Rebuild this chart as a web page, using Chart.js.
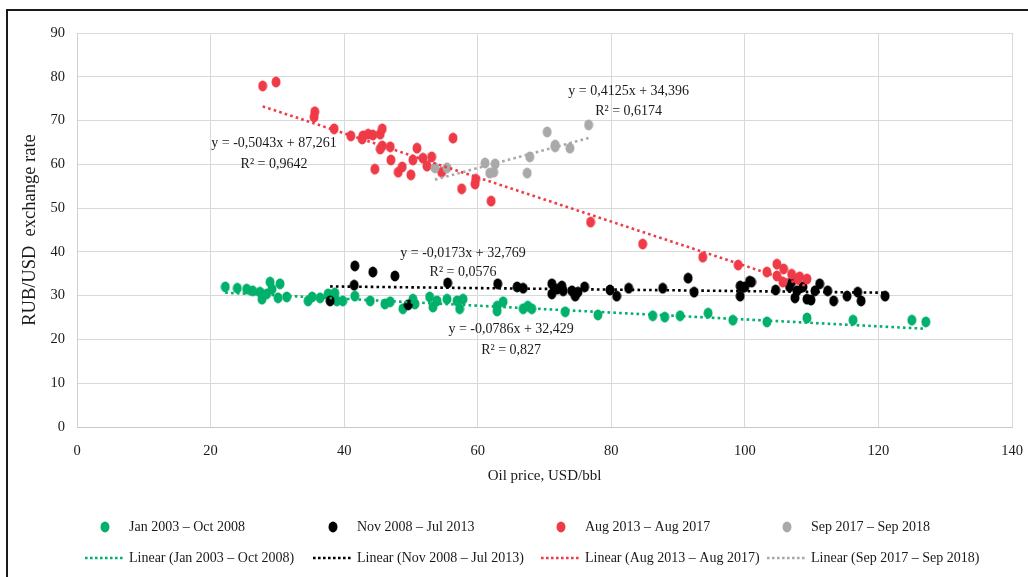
<!DOCTYPE html>
<html>
<head>
<meta charset="utf-8">
<script src="https://cdn.jsdelivr.net/npm/chart.js@4.4.0/dist/chart.umd.min.js"></script>
<style>
  html, body { margin: 0; padding: 0; background: #fff; }
  #wrap { position: relative; width: 1028px; height: 577px; }
</style>
</head>
<body>
<div id="wrap"><canvas id="chart" width="1028" height="577"></canvas></div>
<script>
/* Data */
const seriesNames = ["Jan 2003 \u2013 Oct 2008", "Nov 2008 \u2013 Jul 2013", "Aug 2013 \u2013 Aug 2017", "Sep 2017 \u2013 Sep 2018"];
const seriesColors = ["#00b06b", "#000000", "#ef3b47", "#a9a9a9"];

const jan03X = [22.2, 24.0, 25.4, 26.3, 27.4, 27.7, 28.4, 28.9, 29.2, 30.4, 30.1, 31.4, 34.6, 35.2, 36.4, 37.6, 38.6, 38.9, 39.8, 41.6, 43.9, 46.1, 46.9, 48.8, 50.3, 50.6, 52.8, 53.3, 53.9, 55.4, 56.9, 57.3, 57.8, 62.9, 62.9, 63.8, 66.8, 67.5, 68.1, 73.1, 78.0, 86.2, 88.0, 90.3, 94.5, 98.2, 103.3, 109.3, 116.2, 125.0, 127.1];
const jan03Y = [32.0, 31.7, 31.5, 31.1, 30.8, 29.2, 30.4, 33.1, 31.5, 32.7, 29.5, 29.7, 28.8, 29.7, 29.5, 30.4, 30.6, 28.8, 28.8, 29.9, 28.8, 28.1, 28.6, 27.0, 29.2, 28.1, 29.7, 27.4, 28.8, 29.2, 28.8, 27.0, 29.2, 27.6, 26.5, 28.6, 27.0, 27.6, 27.0, 26.3, 25.6, 25.4, 25.1, 25.4, 26.0, 24.4, 24.0, 24.9, 24.4, 24.4, 24.0];

const nov08X = [37.9, 41.5, 41.6, 44.3, 47.6, 49.6, 55.5, 63.0, 65.9, 66.8, 71.1, 71.1, 71.9, 72.6, 72.8, 74.1, 74.6, 75.0, 76.0, 79.8, 80.8, 82.6, 87.7, 91.5, 92.4, 99.3, 99.3, 100.0, 100.7, 101.0, 104.6, 106.7, 107.0, 107.5, 107.8, 108.7, 109.3, 109.9, 110.5, 111.2, 112.4, 113.3, 115.3, 116.9, 117.4, 121.0];
const nov08Y = [28.8, 32.4, 36.8, 35.4, 34.5, 27.9, 32.9, 32.7, 32.0, 31.7, 32.7, 30.4, 31.5, 32.2, 31.1, 31.1, 29.9, 30.8, 32.0, 31.3, 29.9, 31.7, 31.7, 34.0, 30.8, 29.9, 32.2, 32.0, 33.3, 33.1, 31.3, 32.0, 33.1, 29.5, 31.1, 32.0, 29.2, 29.0, 31.1, 32.7, 31.1, 28.8, 29.9, 30.8, 28.8, 29.9];

const aug13X = [27.8, 29.8, 35.6, 35.5, 38.5, 41.0, 42.7, 42.8, 43.6, 44.3, 45.4, 45.7, 45.7, 45.4, 46.9, 47.0, 44.6, 48.7, 48.1, 50.3, 50.9, 50.0, 51.8, 52.4, 53.1, 56.3, 54.6, 57.6, 59.7, 59.6, 62.0, 76.9, 84.7, 93.7, 99.0, 103.3, 104.8, 104.8, 105.8, 105.7, 107.0, 107.9, 108.2, 109.3];
const aug13Y = [77.9, 78.8, 72.0, 70.8, 68.1, 66.5, 65.8, 66.5, 66.9, 66.7, 66.9, 68.1, 64.2, 63.5, 64.0, 61.0, 58.9, 59.4, 58.2, 61.0, 63.7, 57.6, 61.4, 59.6, 61.7, 66.0, 58.2, 54.4, 56.6, 55.5, 51.6, 46.8, 41.8, 38.8, 37.0, 35.4, 37.2, 34.5, 36.1, 33.1, 34.9, 33.8, 34.3, 33.8];

const sep17X = [53.6, 55.4, 61.1, 62.6, 61.8, 62.4, 67.4, 67.8, 70.4, 71.6, 71.6, 73.8, 76.6];
const sep17Y = [59.2, 59.2, 60.3, 60.1, 58.0, 58.2, 58.0, 61.7, 67.4, 64.4, 64.0, 63.7, 69.0];

/* Linear trendlines as printed on the chart */
const trendSlopes = [-0.0786, -0.0173, -0.5043, 0.4125];
const trendIntercepts = [32.429, 32.769, 87.261, 34.396];
const trendR2 = ["0,827", "0,0576", "0,9642", "0,6174"];
const trendEqText = ["y = -0,0786x + 32,429", "y = -0,0173x + 32,769", "y = -0,5043x + 87,261", "y = 0,4125x + 34,396"];
// where each equation label sits, in data units [x, y of equation line, y of R² line]
const labelAnchors = [[65.0, 22.2, 17.6], [57.8, 39.7, 35.4], [29.5, 64.9, 60.1], [82.6, 76.7, 72.2]];

const xTicks = [0, 20, 40, 60, 80, 100, 120, 140];
const yTicks = [0, 10, 20, 30, 40, 50, 60, 70, 80, 90];

const allX = [jan03X, nov08X, aug13X, sep17X];
const allY = [jan03Y, nov08Y, aug13Y, sep17Y];

const SERIF = "'Liberation Serif', 'Times New Roman', serif";

/* oval marker like the excel ones */
function makeDot(color) {
  const c = document.createElement("canvas");
  c.width = 10; c.height = 12;
  const g = c.getContext("2d");
  g.fillStyle = color;
  g.beginPath();
  g.ellipse(5, 6, 4.5, 5.4, 0, 0, Math.PI * 2);
  g.fill();
  return c;
}

const datasets = [];
seriesNames.forEach((name, i) => {
  datasets.push({
    type: "scatter",
    label: name,
    data: allX[i].map((x, k) => ({ x: x, y: allY[i][k] })),
    pointStyle: makeDot(seriesColors[i]),
    pointRadius: 5,
    pointHoverRadius: 5,
    backgroundColor: seriesColors[i],
    order: 7 - i
  });
});
seriesNames.forEach((name, i) => {
  const lo = Math.min(...allX[i]);
  const hi = Math.max(...allX[i]);
  datasets.push({
    type: "line",
    label: "Linear (" + name + ")",
    data: [lo, hi].map(x => ({ x: x, y: trendSlopes[i] * x + trendIntercepts[i] })),
    borderColor: seriesColors[i],
    borderWidth: 2.6,
    borderDash: [2.6, 3.2],
    borderCapStyle: "butt",
    pointRadius: 0,
    fill: false,
    order: 3 - i
  });
});

/* equation labels */
const eqLabels = {
  id: "eqLabels",
  afterDatasetsDraw(chart) {
    const { ctx, scales } = chart;
    ctx.save();
    ctx.font = "14px " + SERIF;
    ctx.fillStyle = "#1a1a1a";
    ctx.textAlign = "center";
    ctx.textBaseline = "middle";
    labelAnchors.forEach((a, i) => {
      const px = scales.x.getPixelForValue(a[0]);
      ctx.fillText(trendEqText[i], px, scales.y.getPixelForValue(a[1]));
      ctx.fillText("R\u00b2 = " + trendR2[i], px, scales.y.getPixelForValue(a[2]));
    });
    ctx.restore();
  }
};

/* frame + legend at the bottom */
const frameLegend = {
  id: "frameLegend",
  afterDraw(chart) {
    const ctx = chart.ctx;
    ctx.save();
    ctx.strokeStyle = "#1a1a1a";
    ctx.lineWidth = 2;
    ctx.beginPath();
    ctx.moveTo(1028, 10);
    ctx.lineTo(7, 10);
    ctx.lineTo(7, 577);
    ctx.stroke();

    const textX = [129, 357, 585, 811];
    ctx.font = "14px " + SERIF;
    ctx.textBaseline = "middle";
    ctx.textAlign = "left";
    seriesNames.forEach((name, i) => {
      // marker row
      ctx.drawImage(makeDot(seriesColors[i]), textX[i] - 29, 527 - 6);
      ctx.fillStyle = "#1a1a1a";
      ctx.fillText(name, textX[i], 527);
      // trendline row
      ctx.strokeStyle = seriesColors[i];
      ctx.lineWidth = 2.6;
      ctx.setLineDash([2.6, 2.4]);
      ctx.beginPath();
      ctx.moveTo(textX[i] - 44, 558);
      ctx.lineTo(textX[i] - 6, 558);
      ctx.stroke();
      ctx.setLineDash([]);
      ctx.fillText("Linear (" + name + ")", textX[i], 558);
    });
    ctx.restore();
  }
};

new Chart(document.getElementById("chart"), {
  data: { datasets: datasets },
  options: {
    responsive: false,
    animation: false,
    devicePixelRatio: 1,
    events: [],
    layout: { padding: { left: 0, top: 33, right: 16, bottom: 87 } },
    plugins: { legend: { display: false }, tooltip: { enabled: false } },
    scales: {
      x: {
        type: "linear",
        min: 0, max: 140,
        afterBuildTicks: s => { s.ticks = xTicks.map(v => ({ value: v })); },
        afterFit: s => { s.height = 63; s.paddingLeft = 0; s.paddingRight = 0; },
        ticks: { padding: 15, color: "#1a1a1a", font: { family: SERIF, size: 14.5 } },
        grid: { color: "#d9d9d9", drawTicks: false },
        border: { color: "#c8c8c8" },
        title: { display: true, text: "Oil price, USD/bbl", color: "#1a1a1a", font: { family: SERIF, size: 15 }, padding: { top: 0, bottom: 5 } }
      },
      y: {
        type: "linear",
        min: 0, max: 90,
        afterBuildTicks: s => { s.ticks = yTicks.map(v => ({ value: v })); },
        afterFit: s => { s.width = 77; s.paddingTop = 0; s.paddingBottom = 0; },
        ticks: { padding: 12, color: "#1a1a1a", font: { family: SERIF, size: 14.5 } },
        grid: { color: "#d9d9d9", drawTicks: false },
        border: { color: "#d0d0d0" },
        title: { display: true, text: "RUB/USD  exchange rate", color: "#1a1a1a", font: { family: SERIF, size: 18.5 }, padding: { top: 19, bottom: 0 } }
      }
    }
  },
  plugins: [eqLabels, frameLegend]
});
</script>
</body>
</html>
